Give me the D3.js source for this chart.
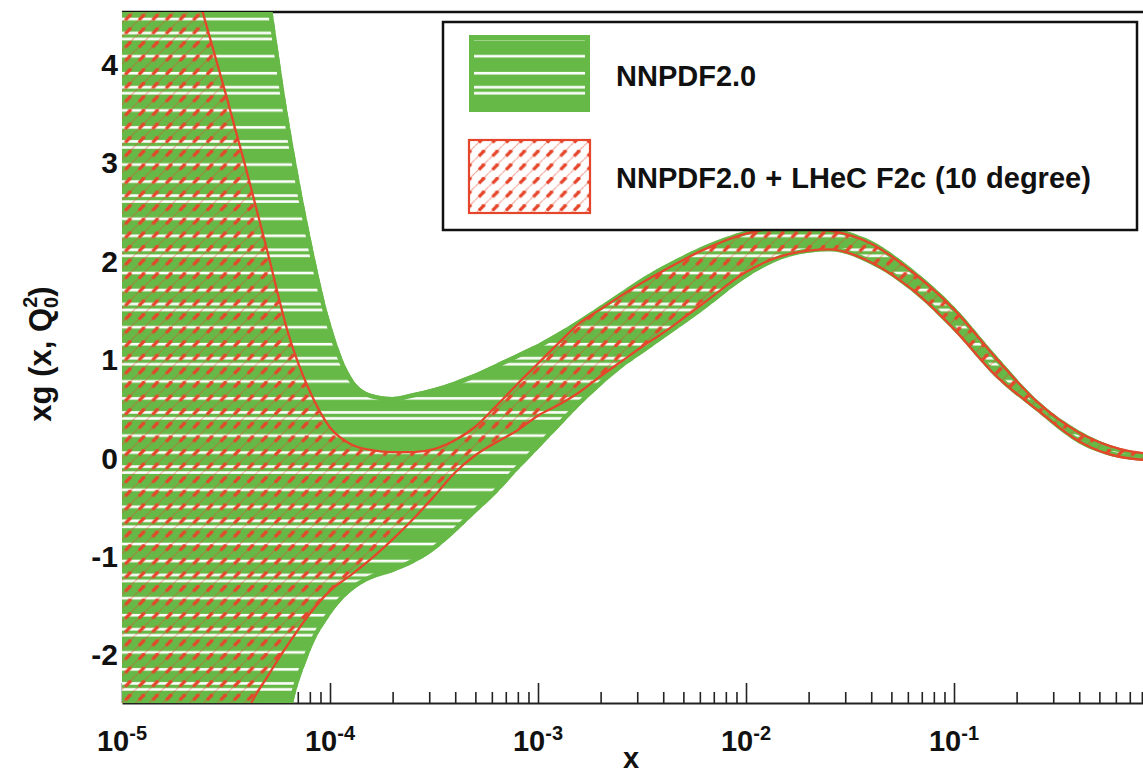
<!DOCTYPE html>
<html>
<head>
<meta charset="utf-8">
<script src="https://cdn.jsdelivr.net/npm/d3@7"></script>
<style>
  body { margin: 0; background: #fff; }
  text { font-family: 'Liberation Sans', Arial, sans-serif; font-weight: bold; fill: #111; }
</style>
</head>
<body>
<div id="chart"></div>
<script>
// log10(x) grid shared by all four curves
const logX = [-5, -4.8, -4.6, -4.5, -4.4, -4.3, -4.2, -4.1, -4.0, -3.9, -3.8, -3.7, -3.6, -3.5,
  -3.4, -3.3, -3.2, -3.1, -3.0, -2.9, -2.8, -2.7, -2.6, -2.5, -2.4, -2.2, -2.0, -1.8, -1.6,
  -1.4, -1.2, -1.0, -0.8, -0.6, -0.4, -0.2, 0.0]

// NNPDF2.0 band
const nnpdfUpper = [14.5, 11.5, 8.6, 7.3, 6.05, 4.85, 3.45, 2.30, 1.38, 0.82, 0.64, 0.61, 0.65, 0.70,
  0.77, 0.85, 0.95, 1.05, 1.15, 1.27, 1.40, 1.54, 1.68, 1.82, 1.94, 2.15, 2.30, 2.36, 2.33,
  2.20, 1.91, 1.53, 1.04, 0.58, 0.27, 0.09, 0.03]
const nnpdfLower = [-14, -11, -8.5, -7.2, -6.0, -4.5, -2.75, -2.0, -1.61, -1.37, -1.24, -1.17, -1.08, -0.95,
  -0.77, -0.57, -0.37, -0.14, 0.08, 0.30, 0.52, 0.72, 0.90, 1.05, 1.20, 1.50, 1.82, 2.03, 2.09,
  1.96, 1.68, 1.28, 0.81, 0.46, 0.14, -0.01, -0.05]

// NNPDF2.0 + LHeC F2c band
const lhecUpper = [7.6, 6.0, 4.43, 3.68, 2.90, 2.08, 1.25, 0.68, 0.30, 0.13, 0.07, 0.05, 0.05, 0.08,
  0.17, 0.31, 0.52, 0.74, 0.95, 1.16, 1.36, 1.50, 1.64, 1.77, 1.89, 2.11, 2.27, 2.33, 2.30,
  2.17, 1.88, 1.50, 1.01, 0.56, 0.25, 0.08, 0.02]
const lhecLower = [-9, -6.5, -4.3, -3.3, -2.6, -2.23, -1.90, -1.60, -1.36, -1.20, -1.03, -0.84, -0.63, -0.40,
  -0.16, 0.02, 0.15, 0.27, 0.42, 0.53, 0.66, 0.82, 0.97, 1.12, 1.26, 1.57, 1.88, 2.06, 2.11,
  1.98, 1.70, 1.30, 0.83, 0.48, 0.16, 0.00, -0.04]

const yTicks = [-2, -1, 0, 1, 2, 3, 4]
const xDecades = [-5, -4, -3, -2, -1]
const legendLabels = ['NNPDF2.0', 'NNPDF2.0 + LHeC F2c (10 degree)']

const width = 1143
const height = 774
const plot = { left: 122, right: 1143, top: 12, bottom: 703 }
const green = '#66b946'
const red = '#e5462b'

const x = d3.scaleLog()
  .domain([1e-5, 1])
  .range([122, 1162])
const y = d3.scaleLinear()
  .domain([-2.5, 4.5])
  .range([703, 14.2])

const rows = logX.map((lx, i) => ({
  x: Math.pow(10, lx),
  gu: nnpdfUpper[i],
  gl: nnpdfLower[i],
  ru: lhecUpper[i],
  rl: lhecLower[i]
}))

const svg = d3.select('#chart')
  .append('svg')
  .attr('width', width)
  .attr('height', height)
const defs = svg.append('defs')

// green fill with the white horizontal stripes
const stripes = defs.append('pattern')
  .attr('id', 'stripes')
  .attr('patternUnits', 'userSpaceOnUse')
  .attr('width', 20)
  .attr('height', 54.2)
stripes.append('rect').attr('width', 20).attr('height', 54.2).attr('fill', green)
;[2, 19, 33, 39].forEach((o) => {
  stripes.append('rect')
    .attr('y', o - 1.3)
    .attr('width', 20)
    .attr('height', 2.6)
    .attr('fill', '#fff')
})

// red dashed diagonal hatch
const hatch = defs.append('pattern')
  .attr('id', 'hatch')
  .attr('patternUnits', 'userSpaceOnUse')
  .attr('x', 12.7)
  .attr('y', 9.9)
  .attr('width', 13.6)
  .attr('height', 13.6)
hatch.append('path')
  .attr('d', 'M-1,14.6L14.6,-1')
  .attr('stroke', red)
  .attr('stroke-opacity', 0.5)
  .attr('stroke-width', 1.2)
hatch.append('path')
  .attr('d', 'M3.8,10.2L9.3,4.7')
  .attr('stroke', red)
  .attr('stroke-width', 3.3)
hatch.append('path')
  .attr('d', 'M6.5,5.2H10.2')
  .attr('stroke', red)
  .attr('stroke-width', 2)

defs.append('clipPath').attr('id', 'plotClip')
  .append('rect')
  .attr('x', plot.left)
  .attr('y', plot.top)
  .attr('width', plot.right - plot.left)
  .attr('height', plot.bottom - plot.top)

const curve = d3.curveMonotoneX
const greenArea = d3.area().curve(curve)
  .x((d) => x(d.x)).y0((d) => y(d.gl)).y1((d) => y(d.gu))
const redArea = d3.area().curve(curve)
  .x((d) => x(d.x)).y0((d) => y(d.rl)).y1((d) => y(d.ru))
const lineOf = (key) => d3.line().curve(curve).x((d) => x(d.x)).y((d) => y(d[key]))

defs.append('clipPath').attr('id', 'greenClip')
  .append('path')
  .attr('d', greenArea(rows))

// frame top line and bottom axis (drawn under the bands)
svg.append('line')
  .attr('x1', plot.left).attr('x2', plot.right)
  .attr('y1', plot.top).attr('y2', plot.top)
  .attr('stroke', '#111')
  .attr('stroke-width', 2.5)

const minorTicks = x.ticks().filter((v) => Math.abs(Math.log10(v) - Math.round(Math.log10(v))) > 1e-6)
const majorTicks = xDecades.map((e) => Math.pow(10, e))

const xAxisMinor = svg.append('g')
  .attr('transform', `translate(0, ${plot.bottom})`)
  .call(d3.axisTop(x).tickValues(minorTicks).tickSize(11).tickSizeOuter(0).tickFormat(''))
const xAxisMajor = svg.append('g')
  .attr('transform', `translate(0, ${plot.bottom})`)
  .call(d3.axisTop(x).tickValues(majorTicks).tickSize(20).tickSizeOuter(0).tickFormat(''))
xAxisMajor.select('.domain').remove()
svg.selectAll('.tick line').attr('stroke', '#222').attr('stroke-width', 1.6)
xAxisMinor.select('.domain').attr('stroke', '#222').attr('stroke-width', 2)

// bands
const bands = svg.append('g').attr('clip-path', 'url(#plotClip)')
bands.append('path')
  .attr('d', greenArea(rows))
  .attr('fill', 'url(#stripes)')
const inner = bands.append('g').attr('clip-path', 'url(#greenClip)')
;['gu', 'gl'].forEach((k) => {
  inner.append('path')
    .attr('d', lineOf(k)(rows))
    .attr('fill', 'none')
    .attr('stroke', green)
    .attr('stroke-width', 9)
})
bands.append('path')
  .attr('d', redArea(rows))
  .attr('fill', 'url(#hatch)')
;['ru', 'rl'].forEach((k) => {
  bands.append('path')
    .attr('d', lineOf(k)(rows))
    .attr('fill', 'none')
    .attr('stroke', red)
    .attr('stroke-width', 2.3)
})

// y tick labels
const yAxis = svg.append('g')
  .attr('transform', `translate(${plot.left}, 0)`)
  .call(d3.axisLeft(y).tickValues(yTicks).tickSize(0).tickPadding(4).tickFormat((d) => String(d)))
yAxis.select('.domain').remove()
yAxis.selectAll('text')
  .attr('dy', '0.37em')
  .style('font-size', '30px')
  .style('font-family', "'Liberation Sans', Arial, sans-serif")
  .style('font-weight', 'bold')
  .attr('fill', '#111')

// x tick labels 10^n
const xLabels = svg.append('g')
  .selectAll('text')
  .data(xDecades)
  .join('text')
  .attr('x', (e) => x(Math.pow(10, e)))
  .attr('y', 751)
  .attr('text-anchor', 'middle')
  .style('font-size', '29px')
xLabels.append('tspan').text('10')
xLabels.append('tspan')
  .attr('dy', -11)
  .style('font-size', '20px')
  .text((e) => String(e))

// axis titles
svg.append('text')
  .attr('x', 631)
  .attr('y', 768)
  .attr('text-anchor', 'middle')
  .style('font-size', '29px')
  .text('x')

const yTitle = svg.append('text')
  .attr('transform', 'translate(51, 354) rotate(-90)')
  .attr('text-anchor', 'middle')
  .style('font-size', '31px')
yTitle.append('tspan').text('xg (x, Q')
yTitle.append('tspan').attr('dy', 7).style('font-size', '20px').text('0')
yTitle.append('tspan').attr('dy', -21).attr('dx', -11).style('font-size', '20px').text('2')
yTitle.append('tspan').attr('dy', 14).text(')')

// legend
const legend = svg.append('g')
legend.append('rect')
  .attr('x', 443).attr('y', 22)
  .attr('width', 694).attr('height', 208)
  .attr('fill', '#fff')
  .attr('stroke', '#111')
  .attr('stroke-width', 2.5)

legend.append('rect')
  .attr('x', 469).attr('y', 35)
  .attr('width', 121).attr('height', 77)
  .attr('fill', 'url(#stripes)')
legend.append('rect')
  .attr('x', 471.5).attr('y', 37.5)
  .attr('width', 116).attr('height', 72)
  .attr('fill', 'none')
  .attr('stroke', green)
  .attr('stroke-width', 5)

legend.append('rect')
  .attr('x', 469).attr('y', 140)
  .attr('width', 121).attr('height', 73)
  .attr('fill', '#fff')
legend.append('rect')
  .attr('x', 469).attr('y', 140)
  .attr('width', 121).attr('height', 73)
  .attr('fill', 'url(#hatch)')
  .attr('stroke', red)
  .attr('stroke-width', 2.2)

legend.selectAll('text.lab')
  .data(legendLabels)
  .join('text')
  .attr('class', 'lab')
  .attr('x', 616)
  .attr('y', (d, i) => [86, 188][i])
  .style('font-size', '29px')
  .style('word-spacing', '1px')
  .text((d) => d)
</script>
</body>
</html>
